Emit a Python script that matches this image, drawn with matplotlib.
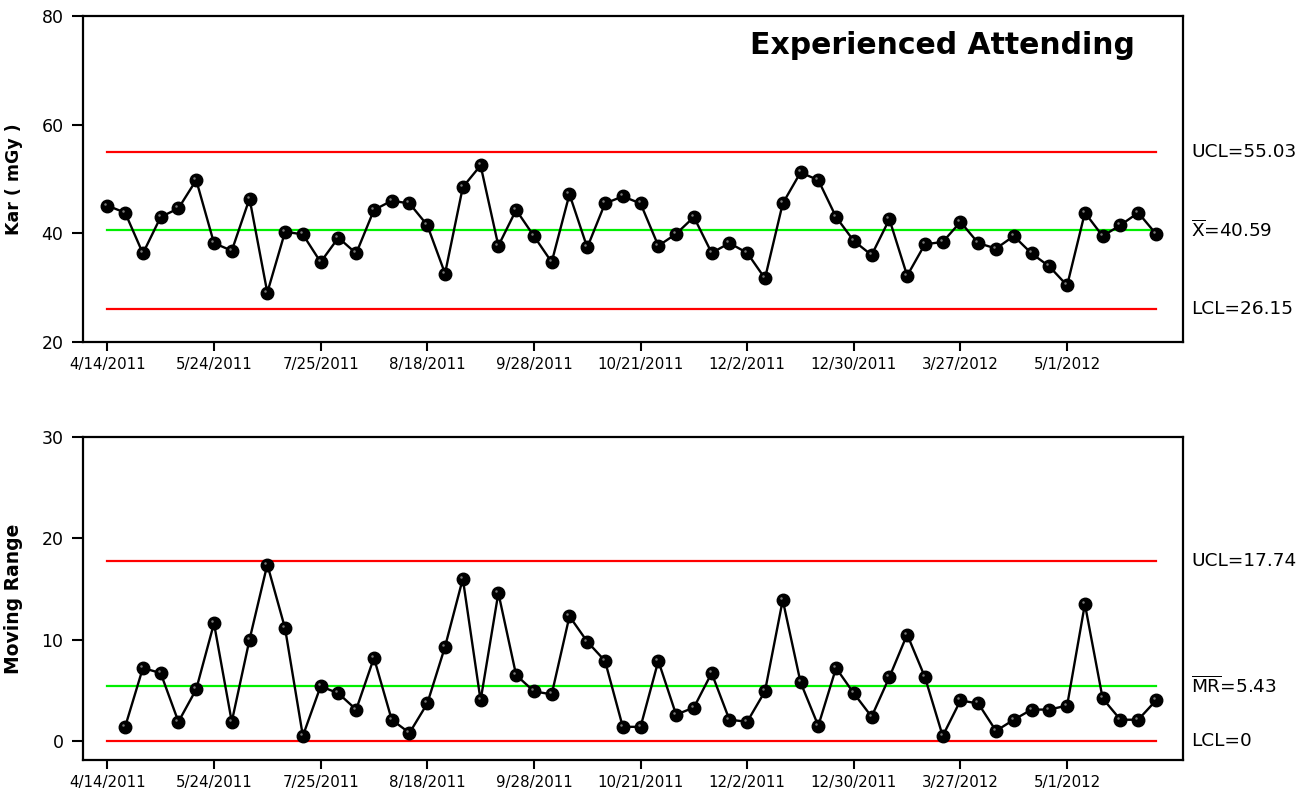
import matplotlib
matplotlib.use('Agg')
import matplotlib.pyplot as plt
import matplotlib.transforms as mtransforms

# ---- data ----
tick_index = [1, 7, 13, 19, 25, 31, 37, 43, 49, 55]
tick_labels = ['4/14/2011', '5/24/2011', '7/25/2011', '8/18/2011', '9/28/2011',
               '10/21/2011', '12/2/2011', '12/30/2011', '3/27/2012', '5/1/2012']

kar = [45.1, 43.8, 36.3, 43.0, 44.6, 49.8, 38.2, 36.8, 46.4, 29.1,
       40.3, 39.8, 34.7, 39.2, 36.3, 44.3, 46.0, 45.5, 41.5, 32.6,
       48.5, 52.5, 37.7, 44.3, 39.5, 34.7, 47.2, 37.4, 45.5, 46.8,
       45.5, 37.7, 39.9, 43.0, 36.4, 38.2, 36.4, 31.7, 45.5, 51.2,
       49.8, 43.0, 38.6, 36.0, 42.6, 32.2, 38.0, 38.4, 42.1, 38.2,
       37.2, 39.5, 36.3, 33.9, 30.4, 43.8, 39.5, 41.5, 43.8, 39.9]

moving_range = [1.4, 7.2, 6.7, 1.9, 5.1, 11.6, 1.9, 10.0, 17.4, 11.1,
                0.5, 5.4, 4.7, 3.1, 8.2, 2.1, 0.8, 3.7, 9.3, 16.0,
                4.0, 14.6, 6.5, 4.9, 4.6, 12.3, 9.8, 7.9, 1.4, 1.4,
                7.9, 2.6, 3.3, 6.7, 2.1, 1.9, 4.9, 13.9, 5.8, 1.5,
                7.2, 4.7, 2.4, 6.3, 10.5, 6.3, 0.5, 4.0, 3.7, 1.0,
                2.1, 3.1, 3.1, 3.5, 13.5, 4.2, 2.1, 2.1, 4.0]

x_ucl, x_bar, x_lcl = 55.03, 40.59, 26.15
mr_ucl, mr_bar, mr_lcl = 17.74, 5.43, 0.0

title = 'Experienced Attending'

# ---- figure ----
W, H = 1316, 797
fig = plt.figure(figsize=(W / 100, H / 100), dpi=100)
ax1 = fig.add_axes([83 / W, 1 - 342 / H, 1100 / W, 326 / H])
ax2 = fig.add_axes([83 / W, 1 - 760 / H, 1100 / W, 323.3 / H])

x1 = list(range(1, len(kar) + 1))
x2 = list(range(2, len(moving_range) + 2))

RED = '#ff0000'
GREEN = '#00ee00'

def style(ax):
    for s in ax.spines.values():
        s.set_linewidth(1.6)
        s.set_color('black')
    ax.tick_params(axis='y', which='major', length=8, width=1.5, direction='out',
                   labelsize=12.5, pad=6, right=False)
    ax.tick_params(axis='x', which='major', length=6.5, width=1.5, direction='out',
                   labelsize=10.8, pad=4, top=False)
    ax.set_xticks(tick_index)
    ax.set_xticklabels(tick_labels)
    ax.set_xlim(-0.37, 61.52)

def plot_series(ax, x, y):
    ax.plot(x, y, color='black', lw=1.7, zorder=3)
    ax.plot(x, y, linestyle='none', marker='o', ms=9, mfc='black', mec='black', zorder=4)
    ax.plot(x, y, linestyle='none', marker='o', ms=1.8, mfc='#7a7a7a', mec='none',
            zorder=5, transform=ax.transData + mtransforms.ScaledTranslation(-2 / 100, 2 / 100, fig.dpi_scale_trans))

# top chart
style(ax1)
ax1.set_ylim(20, 80)
ax1.set_yticks([20, 40, 60, 80])
for v, c in [(x_ucl, RED), (x_bar, GREEN), (x_lcl, RED)]:
    ax1.plot([1, len(kar)], [v, v], color=c, lw=1.6, zorder=2)
plot_series(ax1, x1, kar)
ax1.set_ylabel('Kar ( mGy )', fontsize=12.5, fontweight='bold')
ax1.yaxis.set_label_coords(-0.0545, 0.5)
tr1 = mtransforms.blended_transform_factory(ax1.transAxes, ax1.transData)
ax1.text(1.0075, x_ucl, 'UCL=55.03', transform=tr1, fontsize=13.3, va='center', ha='left')
ax1.text(1.0075, x_bar, r'$\overline{\mathrm{X}}$=40.59', transform=tr1, fontsize=13.3, va='center', ha='left')
ax1.text(1.0075, x_lcl, 'LCL=26.15', transform=tr1, fontsize=13.3, va='center', ha='left')
ax1.text((1135 - 83) / 1100, 1 - (45 - 16) / 326, title, transform=ax1.transAxes,
         fontsize=21.5, fontweight='bold', ha='right', va='center')

# bottom chart
style(ax2)
ax2.set_ylim(-1.87, 30)
ax2.set_yticks([0, 10, 20, 30])
for v, c in [(mr_ucl, RED), (mr_bar, GREEN), (mr_lcl, RED)]:
    ax2.plot([1, len(kar)], [v, v], color=c, lw=1.6, zorder=2)
plot_series(ax2, x2, moving_range)
ax2.set_ylabel('Moving Range', fontsize=13.5, fontweight='bold')
ax2.yaxis.set_label_coords(-0.0545, 0.5)
tr2 = mtransforms.blended_transform_factory(ax2.transAxes, ax2.transData)
ax2.text(1.0075, mr_ucl, 'UCL=17.74', transform=tr2, fontsize=13.3, va='center', ha='left')
ax2.text(1.0075, mr_bar, r'$\overline{\mathrm{MR}}$=5.43', transform=tr2, fontsize=13.3, va='center', ha='left')
ax2.text(1.0075, mr_lcl, 'LCL=0', transform=tr2, fontsize=13.3, va='center', ha='left')

fig.savefig('out.png', dpi=100)
